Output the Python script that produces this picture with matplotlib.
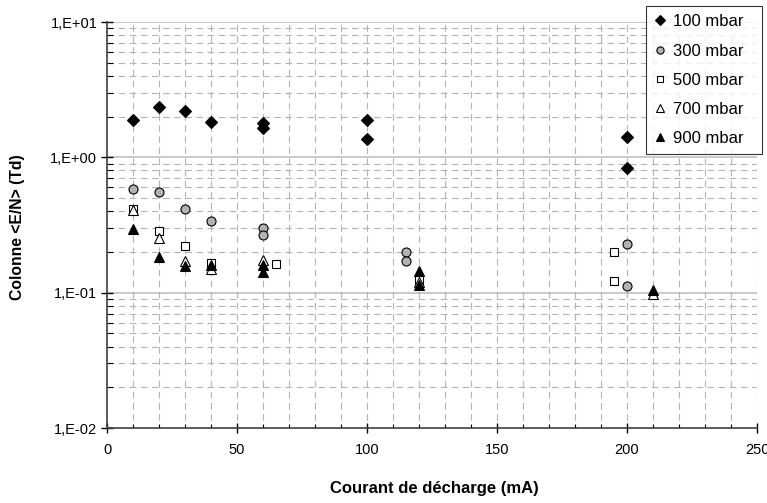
import numpy as np
import matplotlib
matplotlib.use("Agg")
import matplotlib.pyplot as plt
from matplotlib.ticker import FixedLocator, FuncFormatter, LogLocator, NullFormatter

plt.rcParams['font.family'] = ['Liberation Sans', 'DejaVu Sans']

# Data (mA, Td)
x_100 = [10, 20, 30, 40, 60, 60, 100, 100, 200, 200]
y_100 = [1.89, 2.37, 2.20, 1.82, 1.78, 1.64, 1.89, 1.36, 1.42, 0.84]

x_300 = [10, 20, 30, 40, 60, 60, 115, 115, 200, 200]
y_300 = [0.583, 0.551, 0.413, 0.337, 0.298, 0.267, 0.199, 0.171, 0.228, 0.112]

x_500 = [10, 20, 30, 40, 65, 120, 195, 195]
y_500 = [0.415, 0.287, 0.221, 0.166, 0.163, 0.124, 0.199, 0.122]

x_700 = [10, 20, 30, 40, 60, 120, 210]
y_700 = [0.41, 0.252, 0.172, 0.150, 0.175, 0.120, 0.097]

x_900 = [10, 20, 30, 40, 60, 60, 120, 120, 210]
y_900 = [0.294, 0.182, 0.157, 0.160, 0.160, 0.143, 0.145, 0.113, 0.105]

labels = ['100 mbar', '300 mbar', '500 mbar', '700 mbar', '900 mbar']

fig = plt.figure(figsize=(7.67, 5.03), dpi=100)
ax = fig.add_axes([107 / 767, 1 - 428 / 503, 650 / 767, 406 / 503])

ax.set_xlim(0, 250)
ax.set_yscale('log')
ax.set_ylim(1e-2, 1e1)

# grid
grid_col = '#b4b4b4'
dash = (0, (6, 4))
for v in [1e-1, 1e0, 1e1]:
    ax.axhline(v, color='#c0c0c0', lw=1.2, zorder=0)
for dec in [1e-2, 1e-1, 1e0]:
    for m in range(2, 10):
        ax.axhline(dec * m, color=grid_col, lw=0.8, ls=dash, zorder=0)
for xv in range(10, 251, 10):
    ax.axvline(xv, color=grid_col, lw=0.8, ls=(3, (6, 4)), zorder=0)

common = dict(ls='none', markeredgecolor='black', markeredgewidth=0.8, zorder=3)
ax.plot(x_100, y_100, marker='D', ms=6.2, color='black', label=labels[0], **common)
ax.plot(x_300, y_300, marker='o', ms=6.5, color='#b2b2b2', label=labels[1], **common)
ax.plot(x_500, y_500, marker='s', ms=6, color='white', label=labels[2], **common)
ax.plot(x_700, y_700, marker='^', ms=7, color='white', label=labels[3], **common)
ax.plot(x_900, y_900, marker='^', ms=7, color='black', label=labels[4], **common)

# axes styling
for s in ['top', 'right']:
    ax.spines[s].set_visible(False)
ax.spines['left'].set_color('#404040')
ax.spines['bottom'].set_color('#404040')
ax.spines['left'].set_linewidth(1.2)
ax.spines['bottom'].set_linewidth(1.2)

ax.xaxis.set_major_locator(FixedLocator([0, 50, 100, 150, 200, 250]))
ax.xaxis.set_minor_locator(FixedLocator(np.arange(0, 251, 10)))
ax.tick_params(axis='x', which='major', direction='inout', length=7, width=1, labelsize=10.5, pad=7)
ax.tick_params(axis='x', which='minor', direction='in', length=3, width=0.8)

ax.yaxis.set_major_locator(LogLocator(base=10, numticks=10))
ax.yaxis.set_minor_locator(LogLocator(base=10, subs=np.arange(2, 10), numticks=10))
ax.yaxis.set_minor_formatter(NullFormatter())
ax.yaxis.set_major_formatter(FuncFormatter(
    lambda v, p: '1,E{:+03d}'.format(int(round(np.log10(v))))))
ax.tick_params(axis='y', which='major', direction='inout', length=8, width=1, labelsize=10.5, pad=3)
ax.tick_params(axis='y', which='minor', direction='in', length=4, width=0.8)

fig.text(434 / 767, 1 - 488 / 503, 'Courant de décharge (mA)', ha='center', va='center',
         fontsize=12, fontweight='bold')
fig.text(18 / 767, 1 - 227 / 503, 'Colonne <E/N> (Td)', ha='center', va='center',
         rotation=90, fontsize=11.3, fontweight='bold')

leg = fig.legend(loc='upper left', bbox_to_anchor=(646 / 767, 1 - 6 / 503, 116 / 767, 0),
                 bbox_transform=fig.transFigure, mode='expand', frameon=True, fancybox=False,
                 fontsize=12, labelspacing=0.85, handlelength=0.7, handletextpad=0.4,
                 borderpad=0.5, borderaxespad=0, markerscale=0.8)
leg.get_frame().set_edgecolor('black')
leg.get_frame().set_linewidth(0.8)

fig.savefig('out.png', dpi=100)
